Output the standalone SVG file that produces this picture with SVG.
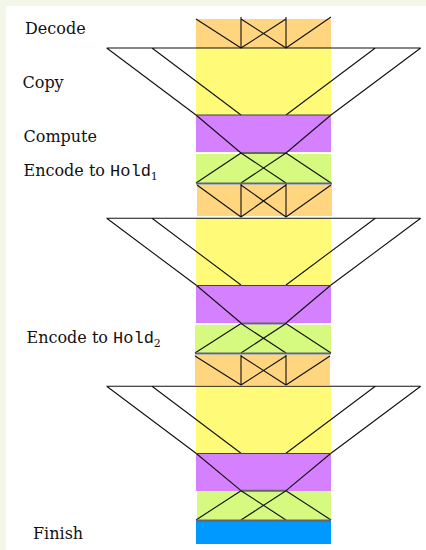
<svg xmlns="http://www.w3.org/2000/svg" width="426" height="550" viewBox="0 0 426 550">
  <style>
    .lbl { font-family: "DejaVu Serif", "Liberation Serif", serif; font-size: 16px; fill: #111; }
    .mono { font-family: "Liberation Mono", "DejaVu Sans Mono", monospace; font-size: 17px; }
    .sub { font-family: "DejaVu Serif", "Liberation Serif", serif; font-size: 11px; }
    .ln { stroke: #111; stroke-width: 1.1; fill: none; }
    .sep { stroke: #666; stroke-width: 2; fill: none; }
    .edge { stroke: #444; stroke-width: 1.2; fill: none; }
    .dec { fill: #ffd580; }
    .cpy { fill: #fffa78; }
    .cmp { fill: #d580ff; }
    .enc { fill: #d5fa7f; }
    .fin { fill: #0099ff; }
  </style>

  <!-- page -->
  <rect x="0" y="0" width="426" height="550" fill="#f3f7e9"/>
  <rect x="6" y="6" width="420" height="544" fill="#ffffff"/>

  <!-- labels -->
  <g id="labels">
    <text class="lbl" x="25" y="33.5">Decode</text>
    <text class="lbl" x="22.5" y="87.5">Copy</text>
    <text class="lbl" x="23.5" y="141.5">Compute</text>
    <text class="lbl" x="23.5" y="176">Encode to <tspan class="mono">Hold</tspan><tspan class="sub" dy="4">1</tspan></text>
    <text class="lbl" x="26.5" y="342.5">Encode to <tspan class="mono">Hold</tspan><tspan class="sub" dy="4">2</tspan></text>
    <text class="lbl" x="33" y="538.5">Finish</text>
  </g>

  <!-- stage bands -->
  <g id="decode1"><rect class="dec" x="196" y="19" width="135" height="29"/></g>
  <g id="copy1"><rect class="cpy" x="196" y="48" width="135" height="67"/></g>
  <g id="compute1"><rect class="cmp" x="196" y="115" width="135" height="37"/></g>
  <g id="encode1"><rect class="enc" x="196" y="154" width="135" height="29"/></g>
  <g id="decode2"><rect class="dec" x="197" y="185" width="135" height="31"/></g>
  <g id="copy2"><rect class="cpy" x="196" y="218" width="135" height="67"/></g>
  <g id="compute2"><rect class="cmp" x="196" y="285" width="135" height="38"/></g>
  <g id="encode2"><rect class="enc" x="195" y="325" width="136" height="28"/></g>
  <g id="decode3"><rect class="dec" x="195" y="355" width="135" height="30"/></g>
  <g id="copy3"><rect class="cpy" x="196" y="386" width="135" height="67"/></g>
  <g id="compute3"><rect class="cmp" x="196" y="453" width="135" height="38"/></g>
  <g id="encode3"><rect class="enc" x="197" y="491" width="134" height="29"/></g>
  <g id="finish"><rect class="fin" x="196" y="521" width="135" height="23"/></g>

  <!-- data-flow lines -->
  <g id="connectors">
    <!-- decode 1 -->
    <path class="ln" d="M241 17V48M286 17V48M196 19L241 48M241 19L286 48M286 19L241 48M331 17L286 48"/>
    <!-- copy 1 -->
    <path class="ln" d="M106.7 48H420.7M106.7 48L196 115L241 153M152 48L241 115M375.3 48L286 115M420.7 48L331 115L286 153"/>
    <path class="edge" d="M196 115H331"/>
    <path class="sep" d="M241 153H286"/>
    <!-- encode 1 -->
    <path class="ln" d="M241 153L196 183M241 153L286 183M286 153L241 183M286 153L331 183"/>
    <path class="sep" d="M196 183.5H332"/>
    <!-- decode 2 -->
    <path class="ln" d="M241 184V217M286 184V217M197 185L241 217M241 185L286 217M286 185L241 217M331 185L286 217"/>
    <!-- copy 2 -->
    <path class="ln" d="M106.7 218.3H420.7M106.7 218.3L196 285L241 323M152 218.3L241 285M375.3 218.3L286 285M420.7 218.3L331 285L286 323"/>
    <path class="edge" d="M196 285.5H331"/>
    <path class="sep" d="M241 323.5H286"/>
    <!-- encode 2 -->
    <path class="ln" d="M241 323.5L195 353M241 323.5L286 353M286 323.5L241 353M286 323.5L331 353"/>
    <path class="sep" d="M195 353.5H331"/>
    <!-- decode 3 -->
    <path class="ln" d="M241 355V385M286 355V385M195 356L241 385M241 356L286 385M286 356L241 385M330 356L286 385"/>
    <!-- copy 3 -->
    <path class="ln" d="M106.7 386.3H420.7M106.7 386.3L196 453.3L241 490.7M152 386.3L241 453.3M375.3 386.3L286 453.3M420.7 386.3L331 453.3L286 490.7"/>
    <path class="edge" d="M196 453.5H331"/>
    <path class="sep" d="M241 490.7H286"/>
    <!-- encode 3 -->
    <path class="ln" d="M241 490.7L196 520M241 490.7L286 520M286 490.7L241 520M286 490.7L331 520"/>
    <path class="sep" d="M196 520.5H331"/>
  </g>
</svg>
